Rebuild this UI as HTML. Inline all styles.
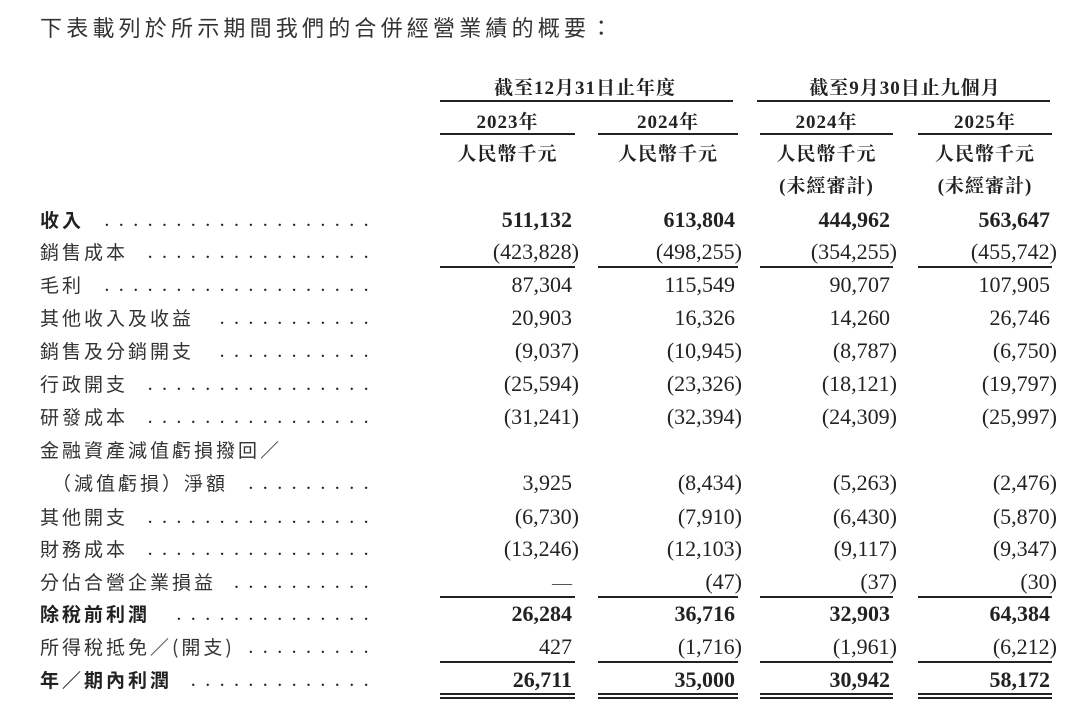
<!DOCTYPE html>
<html><head><meta charset="utf-8"><style>
body{margin:0;width:1080px;height:709px;background:#fff;position:relative;overflow:hidden;color:#222;}
div{position:absolute;white-space:nowrap;}
#rows{left:0;top:0;width:1080px;height:709px;}
.lab{left:40px;font-family:"Noto Sans CJK TC",sans-serif;font-size:19px;letter-spacing:3px;line-height:24px;font-weight:400;color:#333;}
.b{font-weight:700;color:#222;}
.dots{font-family:"Liberation Serif",serif;font-size:20px;letter-spacing:9.4px;line-height:24px;}
.n{font-family:"Liberation Serif",serif;font-size:22px;line-height:24px;text-align:right;}
.p{margin-right:-7px;}
.ln{height:2px;background:#222;}
.h{font-family:"Liberation Serif","Noto Serif CJK TC",serif;font-size:19px;font-weight:700;line-height:24px;text-align:center;letter-spacing:1px;}
</style></head><body>
<div style="left:40px;top:12px;font-family:'Noto Sans CJK TC',sans-serif;font-size:22px;letter-spacing:4.2px;font-weight:400;line-height:30px;color:#333;">下表載列於所示期間我們的合併經營業績的概要：</div>

<div class="h" style="left:440px;width:290px;top:77px;">截至12月31日止年度</div>
<div class="h" style="left:760px;width:290px;top:77px;">截至9月30日止九個月</div>
<div class="ln" style="left:440px;width:293px;top:100px;"></div>
<div class="ln" style="left:757px;width:293px;top:100px;"></div>

<div class="h" style="left:440px;width:135px;top:111px;">2023年</div>
<div class="h" style="left:598px;width:140px;top:111px;">2024年</div>
<div class="h" style="left:760px;width:133px;top:111px;">2024年</div>
<div class="h" style="left:918px;width:134px;top:111px;">2025年</div>
<div class="ln" style="left:440px;width:135px;top:133px;"></div>
<div class="ln" style="left:598px;width:140px;top:133px;"></div>
<div class="ln" style="left:760px;width:133px;top:133px;"></div>
<div class="ln" style="left:918px;width:134px;top:133px;"></div>

<div class="h" style="left:440px;width:135px;top:143px;">人民幣千元</div>
<div class="h" style="left:598px;width:140px;top:143px;">人民幣千元</div>
<div class="h" style="left:760px;width:133px;top:143px;">人民幣千元</div>
<div class="h" style="left:918px;width:134px;top:143px;">人民幣千元</div>
<div class="h" style="left:760px;width:133px;top:175px;">(未經審計)</div>
<div class="h" style="left:918px;width:134px;top:175px;">(未經審計)</div>

<div id="rows"></div>
<script>
const R=[
["收入",1,208,["511,132","613,804","444,962","563,647"]],
["銷售成本",0,240,["(423,828)","(498,255)","(354,255)","(455,742)"]],
["毛利",0,273,["87,304","115,549","90,707","107,905"]],
["其他收入及收益",0,306,["20,903","16,326","14,260","26,746"]],
["銷售及分銷開支",0,339,["(9,037)","(10,945)","(8,787)","(6,750)"]],
["行政開支",0,372,["(25,594)","(23,326)","(18,121)","(19,797)"]],
["研發成本",0,405,["(31,241)","(32,394)","(24,309)","(25,997)"]],
["金融資產減值虧損撥回／",0,438,null],
["（減值虧損）淨額",0,471,["3,925","(8,434)","(5,263)","(2,476)"]],
["其他開支",0,505,["(6,730)","(7,910)","(6,430)","(5,870)"]],
["財務成本",0,537,["(13,246)","(12,103)","(9,117)","(9,347)"]],
["分佔合營企業損益",0,570,["—","(47)","(37)","(30)"]],
["除稅前利潤",1,602,["26,284","36,716","32,903","64,384"]],
["所得稅抵免／(開支)",0,635,["427","(1,716)","(1,961)","(6,212)"]],
["年／期內利潤",1,668,["26,711","35,000","30,942","58,172"]]
];
const rights=[572,735,890,1050];
let h="";
R.forEach(([l,b,y,v],i)=>{
 h+=`<div class="lab${b?' b':''}" style="top:${y}px;${i==8?'left:52px;':''}">${l}</div>`;
 if(v){
  h+=`<div class="dots" data-r="${i}" style="top:${y}px;right:${1080-378}px;"></div>`;
  v.forEach((s,k)=>{
   let t=s.endsWith(')')?s.slice(0,-1)+'<span class="p">)</span>':s;
   if(s=="—") t='<span style="font-size:20px;color:#555">—</span>';
   h+=`<div class="n${b?' b':''}" style="top:${y}px;right:${1080-rights[k]}px;">${t}</div>`;
  });
 }
});
const root=document.getElementById('rows');
root.innerHTML=h;
const labs=root.querySelectorAll('.lab');
root.querySelectorAll('.dots').forEach(d=>{
 const lab=labs[+d.dataset.r];
 const end=lab.offsetLeft+lab.offsetWidth+4;
 const n=Math.max(0,Math.floor((378-end)/15.2));
 d.textContent='.'.repeat(n);
});
const L=[[440,135],[598,140],[760,133],[918,134]];
let g="";
[[266,1],[596,1],[661,1],[693,2]].forEach(([y,t])=>{
 L.forEach(([x,w])=>{
  g+=`<div class="ln" style="left:${x}px;width:${w}px;top:${y}px;"></div>`;
  if(t==2) g+=`<div class="ln" style="left:${x}px;width:${w}px;top:${y+4}px;"></div>`;
 });
});
root.insertAdjacentHTML('beforeend',g);
</script>
</body></html>
